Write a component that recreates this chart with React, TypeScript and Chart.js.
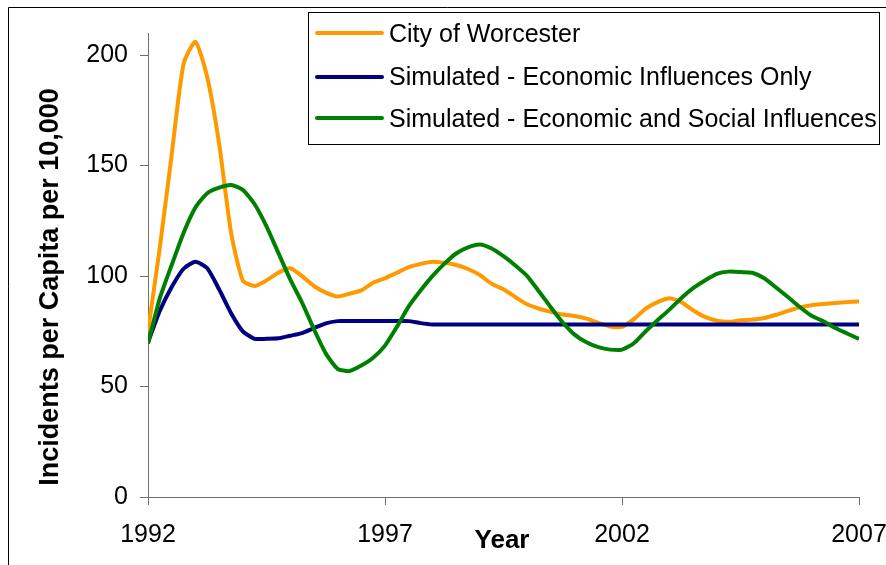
import React, { useEffect, useRef } from "react";
import { Chart, registerables } from "chart.js";

Chart.register(...registerables);

const FONT = "'Liberation Sans', Arial, Helvetica, sans-serif";

// Quarterly time points (years)
const quarters = [
  1992, 1992.25, 1992.5, 1992.75, 1993, 1993.25, 1993.5, 1993.75,
  1994, 1994.25, 1994.5, 1994.75, 1995, 1995.25, 1995.5, 1995.75,
  1996, 1996.25, 1996.5, 1996.75, 1997, 1997.25, 1997.5, 1997.75,
  1998, 1998.25, 1998.5, 1998.75, 1999, 1999.25, 1999.5, 1999.75,
  2000, 2000.25, 2000.5, 2000.75, 2001, 2001.25, 2001.5, 2001.75,
  2002, 2002.25, 2002.5, 2002.75, 2003, 2003.25, 2003.5, 2003.75,
  2004, 2004.25, 2004.5, 2004.75, 2005, 2005.25, 2005.5, 2005.75,
  2006, 2006.25, 2006.5, 2006.75, 2007,
];

const worcester = [
  75, 113, 155, 196, 206, 190, 160, 120,
  98, 95.5, 98, 101.5, 103.5, 100, 95.5, 92.5,
  90.7, 92, 93.5, 97, 99, 101.5, 104, 105.5,
  106.5, 106, 105, 103.2, 100.5, 96.5, 94, 90.5,
  87.2, 85.2, 83.8, 82.6, 81.9, 80.7, 78.8, 77.2,
  77, 80.5, 85.2, 88.2, 90, 88.2, 84.5, 81.5,
  79.8, 79.3, 80, 80.3, 81, 82.5, 84.2, 85.8,
  86.8, 87.3, 87.8, 88.2, 88.5,
];

const economicOnly = [
  70, 84.3, 95, 103.3, 106.5, 103.5, 94, 83.3,
  75, 71.6, 71.6, 71.8, 73, 74.2, 76.4, 78.6,
  79.6, 79.6, 79.6, 79.6, 79.6, 79.6, 79.6, 78.7,
  78.1, 78.1, 78.1, 78.1, 78.1, 78.1, 78.1, 78.1,
  78.1, 78.1, 78.1, 78.1, 78.1, 78.1, 78.1, 78.1,
  78.1, 78.1, 78.1, 78.1, 78.1, 78.1, 78.1, 78.1,
  78.1, 78.1, 78.1, 78.1, 78.1, 78.1, 78.1, 78.1,
  78.1, 78.1, 78.1, 78.1, 78.1,
];

const economicSocial = [
  69.5, 90, 105, 119.5, 131, 137.5, 140, 141.2,
  139, 132.5, 122.5, 110.5, 98.5, 88, 76, 65,
  58, 57, 59.5, 63, 68.5, 77, 86.3, 93.5,
  100, 105.5, 110.2, 113, 114.3, 112.5, 109, 104.8,
  100, 93, 85.8, 79, 73.5, 70, 67.8, 66.7,
  66.7, 69.6, 75, 80, 84.8, 90, 94.5, 98,
  101, 102, 101.8, 101.5, 99, 94.8, 90.5, 86,
  82, 79.5, 76.5, 74, 71.5,
];

const seriesLabels = [
  "City of Worcester",
  "Simulated - Economic Influences Only",
  "Simulated - Economic and Social Influences",
];
const seriesColors = ["#FF9900", "#000080", "#008000"];

const xTicks = [1992, 1997, 2002, 2007];
const yTicks = [0, 50, 100, 150, 200];

const xTitle = "Year";
const yTitle = "Incidents per Capita per 10,000";

export default function App() {
  const ref = useRef<HTMLCanvasElement>(null);

  useEffect(() => {
    if (!ref.current) return;

    const decor = {
      id: "decor",
      afterDraw(chart: any) {
        const ctx = chart.ctx as CanvasRenderingContext2D;
        ctx.save();
        // outer frame (cropped on right and bottom)
        ctx.strokeStyle = "#000";
        ctx.lineWidth = 1;
        ctx.beginPath();
        ctx.moveTo(8.5, 565);
        ctx.lineTo(8.5, 7.5);
        ctx.lineTo(886, 7.5);
        ctx.stroke();

        // axis titles
        ctx.fillStyle = "#000";
        ctx.font = `bold 26px ${FONT}`;
        ctx.textAlign = "center";
        ctx.textBaseline = "alphabetic";
        ctx.fillText(xTitle, 502, 548);

        ctx.save();
        ctx.translate(58, 287);
        ctx.rotate(-Math.PI / 2);
        ctx.font = `bold 27px ${FONT}`;
        ctx.fillText(yTitle, 0, 0);
        ctx.restore();

        // legend
        ctx.fillStyle = "#fff";
        ctx.fillRect(308.5, 12.5, 571, 132);
        ctx.strokeStyle = "#000";
        ctx.lineWidth = 1;
        ctx.strokeRect(308.5, 12.5, 571, 132);
        const lineYs = [33, 77, 118];
        const baseYs = [42, 85, 127];
        chart.data.datasets.forEach((ds: any, i: number) => {
          ctx.strokeStyle = ds.borderColor;
          ctx.lineWidth = 4;
          ctx.lineCap = "round";
          ctx.beginPath();
          ctx.moveTo(317, lineYs[i]);
          ctx.lineTo(382, lineYs[i]);
          ctx.stroke();
          ctx.fillStyle = "#000";
          ctx.font = `25px ${FONT}`;
          ctx.textAlign = "left";
          ctx.textBaseline = "alphabetic";
          ctx.fillText(ds.label, 389, baseYs[i]);
        });
        ctx.restore();
      },
    };

    const mk = (vals: number[]) => quarters.map((x, i) => ({ x, y: vals[i] }));

    const chart = new Chart(ref.current, {
      type: "line",
      data: {
        datasets: [
          {
            label: seriesLabels[0],
            data: mk(worcester),
            borderColor: seriesColors[0],
            backgroundColor: seriesColors[0],
            borderWidth: 4,
            pointRadius: 0,
            tension: 0.2,
            order: 2,
          },
          {
            label: seriesLabels[1],
            data: mk(economicOnly),
            borderColor: seriesColors[1],
            backgroundColor: seriesColors[1],
            borderWidth: 4,
            pointRadius: 0,
            tension: 0.2,
            order: 1,
          },
          {
            label: seriesLabels[2],
            data: mk(economicSocial),
            borderColor: seriesColors[2],
            backgroundColor: seriesColors[2],
            borderWidth: 4,
            pointRadius: 0,
            tension: 0.2,
            order: 0,
          },
        ],
      },
      options: {
        animation: false,
        responsive: false,
        maintainAspectRatio: false,
        layout: { padding: { left: 0, top: 33, right: 27, bottom: 0 } },
        plugins: {
          legend: { display: false },
          tooltip: { enabled: false },
          title: { display: false },
        },
        scales: {
          x: {
            type: "linear",
            min: 1992,
            max: 2007,
            afterBuildTicks: (scale: any) => {
              scale.ticks = xTicks.map((v) => ({ value: v }));
            },
            afterFit: (scale: any) => {
              scale.height = 68;
              scale.paddingLeft = 0;
              scale.paddingRight = 0;
            },
            grid: {
              display: true,
              drawOnChartArea: false,
              drawTicks: true,
              tickLength: 8,
              color: "#707070",
            },
            border: { display: true, color: "#707070", width: 1 },
            ticks: {
              color: "#000",
              font: { family: FONT, size: 25 },
              padding: 15,
              maxRotation: 0,
              autoSkip: false,
              callback: (v: any) => String(v),
            },
          },
          y: {
            type: "linear",
            min: 0,
            max: 210,
            afterBuildTicks: (scale: any) => {
              scale.ticks = yTicks.map((v) => ({ value: v }));
            },
            afterFit: (scale: any) => {
              scale.width = 148;
              scale.paddingTop = 0;
              scale.paddingBottom = 0;
            },
            grid: {
              display: true,
              drawOnChartArea: false,
              drawTicks: true,
              tickLength: 8,
              color: "#707070",
            },
            border: { display: true, color: "#707070", width: 1 },
            ticks: {
              color: "#000",
              font: { family: FONT, size: 25 },
              padding: 12,
              callback: (v: any) => String(v),
            },
          },
        },
      },
      plugins: [decor],
    });

    return () => chart.destroy();
  }, []);

  return (
    <canvas
      ref={ref}
      width={886}
      height={565}
      style={{ position: "absolute", left: 0, top: 0 }}
    />
  );
}
